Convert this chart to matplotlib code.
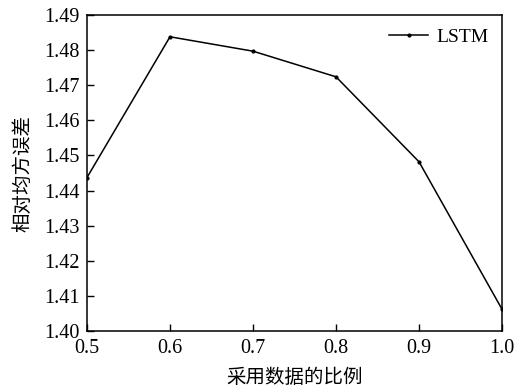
import matplotlib
matplotlib.use("Agg")
import matplotlib.pyplot as plt

ratios = [0.5, 0.6, 0.7, 0.8, 0.9, 1.0]
lstm_rmse = [1.4437, 1.4838, 1.4797, 1.4724, 1.4482, 1.4062]
x_ticks = [0.5, 0.6, 0.7, 0.8, 0.9, 1.0]
x_tick_labels = ["0.5", "0.6", "0.7", "0.8", "0.9", "1.0"]
y_ticks = [1.40, 1.41, 1.42, 1.43, 1.44, 1.45, 1.46, 1.47, 1.48, 1.49]
y_tick_labels = ["1.40", "1.41", "1.42", "1.43", "1.44", "1.45", "1.46", "1.47", "1.48", "1.49"]

serif = ["Liberation Serif", "DejaVu Serif"]
cjk = ["Noto Sans CJK SC", "DejaVu Sans"]

fig = plt.figure(figsize=(5.31, 3.89), dpi=100)
ax = fig.add_axes([0.1638, 0.1491, 0.9454 - 0.1638, 0.9614 - 0.1491])

ax.plot(ratios, lstm_rmse, color="black", lw=1.1, marker="o", ms=2.0, label="LSTM")

ax.set_xlim(0.5, 1.0)
ax.set_ylim(1.40, 1.49)
ax.set_xticks(x_ticks)
ax.set_xticklabels(x_tick_labels, family=serif, fontsize=14.5)
ax.set_yticks(y_ticks)
ax.set_yticklabels(y_tick_labels, family=serif, fontsize=14.5)
ax.tick_params(direction="in", length=5, width=1.0, top=False, right=False)
ax.tick_params(axis="x", pad=6)
ax.tick_params(axis="y", pad=5)
for s in ax.spines.values():
    s.set_linewidth(1.1)

ax.set_xlabel("采用数据的比例", family=cjk, fontsize=14, labelpad=6)
ax.set_ylabel("相对均方误差", family=cjk, fontsize=14, labelpad=8)

leg = ax.legend(loc="upper right", frameon=False, prop={"family": serif, "size": 14},
                handlelength=2.0, handletextpad=0.4, borderaxespad=0.3)

fig.savefig("out.png", dpi=100)
